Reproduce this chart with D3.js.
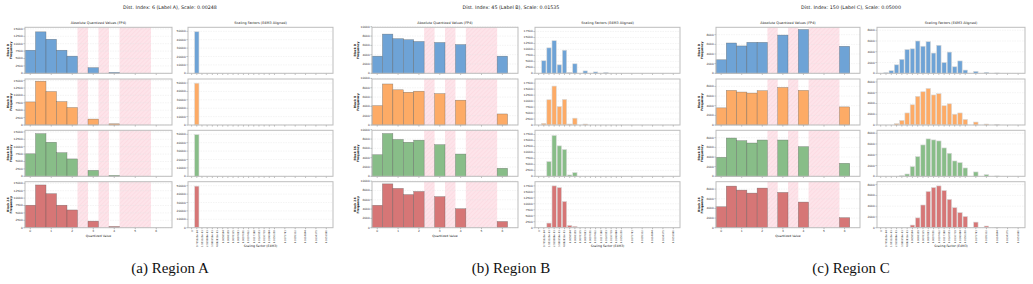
<!DOCTYPE html>
<html>
<head>
<meta charset="utf-8">
<script src="https://cdn.jsdelivr.net/npm/d3@7"></script>
<style>
  body { margin: 0; background: #fff; }
  svg { display: block; }
</style>
</head>
<body>
<svg id="chart" width="1033" height="284"></svg>
<script>
// ---- data ----
var fp4Values = [0, 0.5, 1, 1.5, 2, 3, 4, 6];
var emptyBins = [[2.25, 2.75], [3.25, 3.75], [4.25, 5.75]];
var blockLabels = ["Block 0", "Block 8", "Block 16", "Block 24"];
var seriesColors = ["#6ea3d6", "#fdab66", "#88bd88", "#d67676"];
var panelTitles = [
  "Dist. Index: 6 (Label A), Scale: 0.00248",
  "Dist. Index: 45 (Label B), Scale: 0.01535",
  "Dist. Index: 150 (Label C), Scale: 0.05000"
];
var captions = ["(a) Region A", "(b) Region B", "(c) Region C"];

// quantized value counts per block (rows) for bins fp4Values
var quantA = [
  [7800, 14000, 11500, 7800, 5800, 1900, 300, 0],
  [7800, 14800, 11300, 7900, 5900, 2000, 400, 0],
  [7600, 14400, 11500, 7970, 5870, 2000, 300, 0],
  [7600, 14440, 11480, 7600, 5990, 2220, 400, 0]
];
var quantB = [
  [3680, 8420, 7440, 7220, 6840, 6620, 6170, 3680],
  [4150, 8810, 7560, 7040, 7260, 6740, 5330, 2370],
  [4630, 9180, 7910, 7310, 7760, 6790, 4780, 1720],
  [4810, 9410, 8440, 7110, 7780, 6670, 4070, 1330]
];
var quantC = [
  [2800, 6280, 5670, 6420, 6420, 7920, 9080, 5600],
  [3550, 7170, 6830, 6620, 7100, 7780, 7170, 3750],
  [3930, 7930, 7380, 6900, 7520, 7520, 6140, 2690],
  [4340, 8620, 7790, 7170, 8210, 7310, 5310, 2070]
];

// scaling factor bins (tick order)
var scaleTickPos = [0, 1, 2, 3, 4, 5, 6, 7, 8, 9, 10, 11, 12, 13, 14, 15, 16, 18, 20, 22, 24, 26];
var scaleTickLabels = [
  "0", "9.765625e-04", "1.953125e-03", "2.929688e-03", "3.906250e-03", "4.882812e-03",
  "0.0058594", "0.0068359", "0.0078125", "0.0087891", "0.0097656", "0.0107422",
  "0.0117188", "0.0126953", "0.0136719", "0.0146484", "0.0156250", "0.0175781",
  "0.0195312", "0.0214844", "0.0234375", "0.0253906"
];
var scaleA = [
  [0, 49500, 0, 0, 0, 0, 0, 0, 0, 0, 0, 0, 0, 0, 0, 0, 0, 0, 0, 0, 0, 0],
  [0, 49800, 0, 0, 0, 0, 0, 0, 0, 0, 0, 0, 0, 0, 0, 0, 0, 0, 0, 0, 0, 0],
  [0, 49600, 0, 0, 0, 0, 0, 0, 0, 0, 0, 0, 0, 0, 0, 0, 0, 0, 0, 0, 0, 0],
  [0, 49500, 0, 0, 0, 0, 0, 0, 0, 0, 0, 0, 0, 0, 0, 0, 0, 0, 0, 0, 0, 0]
];
var scaleB = [
  [0, 5250, 10650, 13640, 3550, 9660, 300, 3980, 0, 1000, 0, 570, 0, 300, 0, 0, 0, 0, 0, 0, 0, 0],
  [0, 700, 10570, 16290, 7710, 10710, 400, 2860, 0, 400, 0, 0, 0, 0, 0, 0, 0, 0, 0, 0, 0, 0],
  [0, 0, 6160, 17080, 12740, 11200, 560, 1540, 0, 0, 0, 0, 0, 0, 0, 0, 0, 0, 0, 0, 0, 0],
  [0, 0, 1940, 17500, 16800, 10970, 970, 560, 0, 0, 0, 0, 0, 0, 0, 0, 0, 0, 0, 0, 0, 0]
];
var scaleC = [
  [0, 100, 480, 1580, 2600, 4420, 4550, 6000, 5030, 5880, 3760, 5210, 2000, 3940, 1210, 2300, 600, 360, 180, 60, 0, 0],
  [0, 0, 0, 250, 850, 2240, 3760, 5330, 6180, 6790, 5580, 5820, 3580, 3940, 2000, 2240, 1030, 550, 180, 60, 0, 0],
  [0, 0, 0, 0, 100, 430, 1800, 3660, 5830, 6950, 6760, 6570, 5270, 4280, 2850, 2540, 1550, 810, 310, 60, 0, 0],
  [0, 0, 0, 0, 0, 0, 490, 1830, 4220, 6730, 7460, 7770, 6910, 5260, 3730, 2810, 2080, 1040, 310, 60, 0, 0]
];

var quantTicksA = [0, 2500, 5000, 7500, 10000, 12500, 15000];
var quantTicksB = [0, 2000, 4000, 6000, 8000, 10000];
var quantTicksC = [0, 2000, 4000, 6000, 8000];
var scaleTicksA = [0, 10000, 20000, 30000, 40000, 50000];
var scaleTicksB = [0, 2500, 5000, 7500, 10000, 12500, 15000, 17500];
var scaleTicksC = [0, 2000, 4000, 6000, 8000];
var valueTicks = [0, 1, 2, 3, 4, 5, 6];

// ---- layout ----
var svg = d3.select("#chart");
var font = "DejaVu Sans, sans-serif";

var defs = svg.append("defs");
var pat = defs.append("pattern")
  .attr("id", "hatch")
  .attr("patternUnits", "userSpaceOnUse")
  .attr("width", 3).attr("height", 3)
  .attr("patternTransform", "rotate(45)");
pat.append("rect").attr("width", 3).attr("height", 3).attr("fill", "#fde4ea");
pat.append("line").attr("x1", 0).attr("y1", 0).attr("x2", 0).attr("y2", 3)
  .attr("stroke", "#f7c9d3").attr("stroke-width", 0.6);

var panels = [
  { quant: quantA, scale: scaleA, qt: quantTicksA, st: scaleTicksA, lx: [25, 172], rx: [188, 333], cx: 170 },
  { quant: quantB, scale: scaleB, qt: quantTicksB, st: scaleTicksB, lx: [372, 518], rx: [535, 680], cx: 511 },
  { quant: quantC, scale: scaleC, qt: quantTicksC, st: scaleTicksC, lx: [716, 860], rx: [877, 1025], cx: 851 }
];
var rowTops = [27.3, 79, 130.3, 181.7];
var rowH = 46;

function frame(g, x0, x1, y0, y1) {
  g.append("rect")
    .attr("x", x0).attr("y", y0).attr("width", x1 - x0).attr("height", y1 - y0)
    .attr("fill", "none").attr("stroke", "#bdbdbd").attr("stroke-width", 1);
}

function yAxis(g, y, ticks, x0, x1) {
  ticks.forEach(function (t) {
    g.append("line").attr("x1", x0).attr("x2", x1)
      .attr("y1", y(t)).attr("y2", y(t))
      .attr("stroke", "#e3e3e3").attr("stroke-width", 0.4).attr("stroke-dasharray", "1.5,1");
    g.append("line").attr("x1", x0 - 1.5).attr("x2", x0)
      .attr("y1", y(t)).attr("y2", y(t)).attr("stroke", "#444").attr("stroke-width", 0.4);
    g.append("text").attr("x", x0 - 2.2).attr("y", y(t) + 1)
      .attr("text-anchor", "end").attr("font-family", font).attr("font-size", 2.9)
      .attr("fill", "#333").text(t);
  });
}

panels.forEach(function (p, pi) {
  var g = svg.append("g");

  g.append("text").attr("x", p.cx).attr("y", 8.8)
    .attr("text-anchor", "middle").attr("font-family", font).attr("font-size", 4.8)
    .attr("fill", "#222").text(panelTitles[pi]);
  g.append("text").attr("x", (p.lx[0] + p.lx[1]) / 2).attr("y", 24.3)
    .attr("text-anchor", "middle").attr("font-family", font).attr("font-size", 3.4)
    .attr("fill", "#222").text("Absolute Quantized Values (FP4)");
  g.append("text").attr("x", (p.rx[0] + p.rx[1]) / 2).attr("y", 24.3)
    .attr("text-anchor", "middle").attr("font-family", font).attr("font-size", 3.4)
    .attr("fill", "#222").text("Scaling Factors (E4M3 Aligned)");

  var x = d3.scaleLinear().domain([-0.25, 6.75]).range(p.lx);
  var xs = d3.scaleLinear().domain([-0.7, 27.3]).range(p.rx);
  var qMax = d3.max(p.quant, function (r) { return d3.max(r); }) * 1.05;
  var sMax = d3.max(p.scale, function (r) { return d3.max(r); }) * 1.1;

  rowTops.forEach(function (top, ri) {
    var bottom = top + rowH;
    var y = d3.scaleLinear().domain([0, qMax]).range([bottom, top]);
    var ys = d3.scaleLinear().domain([0, sMax]).range([bottom, top]);
    var col = seriesColors[ri];

    // left: quantized value histogram
    var lg = g.append("g");
    lg.selectAll("rect.span").data(emptyBins).enter().append("rect")
      .attr("x", function (d) { return x(d[0]); })
      .attr("width", function (d) { return x(d[1]) - x(d[0]); })
      .attr("y", top).attr("height", rowH)
      .attr("fill", "url(#hatch)");
    yAxis(lg, y, p.qt, p.lx[0], p.lx[1]);
    lg.selectAll("rect.bar").data(p.quant[ri]).enter().append("rect")
      .attr("x", function (d, i) { return x(fp4Values[i] - 0.25); })
      .attr("width", function (d, i) { return x(fp4Values[i] + 0.25) - x(fp4Values[i] - 0.25); })
      .attr("y", function (d) { return y(d); })
      .attr("height", function (d) { return bottom - y(d); })
      .attr("fill", col).attr("stroke", "#5a5a5a").attr("stroke-width", 0.45).attr("stroke-opacity", 0.7);
    valueTicks.forEach(function (t) {
      lg.append("line").attr("x1", x(t)).attr("x2", x(t)).attr("y1", bottom).attr("y2", bottom + 1.5)
        .attr("stroke", "#444").attr("stroke-width", 0.4);
      if (ri === 3) {
        lg.append("text").attr("x", x(t)).attr("y", bottom + 4.6)
          .attr("text-anchor", "middle").attr("font-family", font).attr("font-size", 2.9)
          .attr("fill", "#333").text(t);
      }
    });
    frame(lg, p.lx[0], p.lx[1], top, bottom);
    var yl = lg.append("text")
      .attr("transform", "translate(" + (p.lx[0] - 16.5) + "," + (top + rowH / 2) + ") rotate(-90)")
      .attr("text-anchor", "middle").attr("font-family", font).attr("font-size", 3)
      .attr("font-weight", "bold").attr("fill", "#222");
    yl.append("tspan").attr("x", 0).attr("dy", 0).text(blockLabels[ri]);
    yl.append("tspan").attr("x", 0).attr("dy", 3.4).text("Frequency");

    // right: scaling factor histogram
    var rg = g.append("g");
    yAxis(rg, ys, p.st, p.rx[0], p.rx[1]);
    var bins = p.scale[ri]
      .map(function (v, i) { return { v: v, pos: scaleTickPos[i] }; })
      .filter(function (d) { return d.v > 0; });
    rg.selectAll("rect.bar").data(bins).enter().append("rect")
      .attr("x", function (d) { return xs(d.pos - 0.42); })
      .attr("width", xs(0.42) - xs(-0.42))
      .attr("y", function (d) { return ys(d.v); })
      .attr("height", function (d) { return bottom - ys(d.v); })
      .attr("fill", col).attr("stroke", "#d9d9d9").attr("stroke-width", 0.6);
    scaleTickPos.forEach(function (t, i) {
      rg.append("line").attr("x1", xs(t)).attr("x2", xs(t)).attr("y1", bottom).attr("y2", bottom + 1.5)
        .attr("stroke", "#444").attr("stroke-width", 0.4);
      if (ri === 3) {
        rg.append("text")
          .attr("transform", "translate(" + (xs(t) + 0.9) + "," + (bottom + 2.6) + ") rotate(-90)")
          .attr("text-anchor", "end").attr("font-family", font).attr("font-size", 2.4)
          .attr("fill", "#333").text(scaleTickLabels[i]);
      }
    });
    frame(rg, p.rx[0], p.rx[1], top, bottom);
  });

  var lastBottom = rowTops[3] + rowH;
  g.append("text").attr("x", (p.lx[0] + p.lx[1]) / 2).attr("y", lastBottom + 9)
    .attr("text-anchor", "middle").attr("font-family", font).attr("font-size", 3.1)
    .attr("fill", "#222").text("Quantized Value");
  g.append("text").attr("x", (p.rx[0] + p.rx[1]) / 2).attr("y", lastBottom + 19)
    .attr("text-anchor", "middle").attr("font-family", font).attr("font-size", 3.1)
    .attr("fill", "#222").text("Scaling Factor (E4M3)");

  g.append("text").attr("x", p.cx).attr("y", 273)
    .attr("text-anchor", "middle").attr("font-family", "Liberation Serif, Times New Roman, serif")
    .attr("font-size", 15).attr("fill", "#111").text(captions[pi]);
});
</script>
</body>
</html>
